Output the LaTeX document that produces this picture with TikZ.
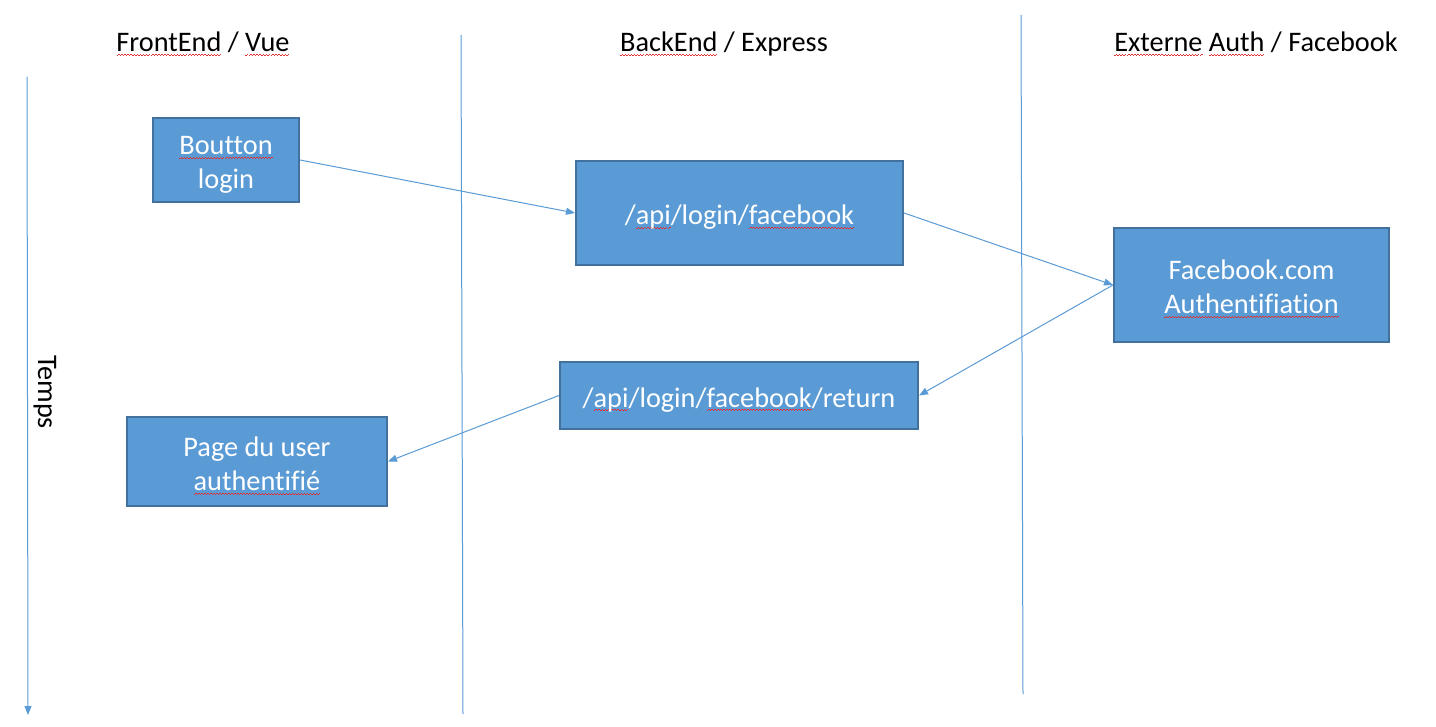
\documentclass[tikz,border=0pt]{standalone}
\usepackage{fontspec}
\setmainfont{Carlito}[Ligatures=NoCommon]
\usetikzlibrary{arrows.meta}
\definecolor{boxfill}{HTML}{5B9BD5}
\definecolor{boxline}{HTML}{41719C}
\definecolor{wavered}{HTML}{E03030}
\newsavebox\sqword
\newcommand\wavepiece{\hbox{{\color{wavered}\rule{1.5pt}{0.8pt}\raisebox{1pt}{\rule{1.5pt}{0.8pt}}}}}
\newcommand\sq[1]{\sbox\sqword{#1}\rlap{\raisebox{-4pt}{\hbox to\wd\sqword{\xleaders\wavepiece\hfill}}}\usebox\sqword}
\newcommand\topstrut{\rule{0pt}{28pt}}
\begin{document}
\begin{tikzpicture}[x=1pt,y=-1pt,
  box/.style={draw=boxline,line width=2pt,fill=boxfill,text=white,font=\fontsize{28.3}{34}\selectfont,align=center,inner sep=0pt},
  conn/.style={draw=boxfill,line width=1pt,-{Triangle[length=9pt,width=7pt]}},
  lane/.style={draw=boxfill,line width=1pt},
  title/.style={font=\fontsize{28.3}{34}\selectfont,text=black,inner sep=0pt}]
\useasboundingbox[fill=white] (0,0) rectangle (1436,727);

% lanes and time axis
\coordinate (l1top) at (461,35);
\coordinate (l1bot) at (463,714);
\coordinate (l2top) at (1021,15);
\coordinate (l2bot) at (1023,694);
\coordinate (ttop) at (27,77);
\coordinate (tbot) at (28,715);
\draw[lane] (l1top) -- (l1bot);
\draw[lane] (l2top) -- (l2bot);
\draw[conn] (ttop) -- (tbot);

% titles
\node[title,anchor=base] (t1) at (203,52) {\sq{FrontEnd} / \sq{Vue}};
\node[title,anchor=base] (t2) at (724,52) {\sq{BackEnd} / Express};
\node[title,anchor=base] (t3) at (1256,52) {\sq{Externe} \sq{Auth} / Facebook};
\node[title,rotate=-90] (temps) at (45,392) {Temps};

% boxes
\node[box,minimum width=146pt,minimum height=84pt] (b1) at (226,160) {\topstrut\sq{Boutton}\\login};
\node[box,minimum width=327pt,minimum height=104pt] (b2) at (739.5,213) {\topstrut/\sq{api}/login/\sq{facebook}};
\node[box,minimum width=275pt,minimum height=114pt] (b3) at (1251.5,285) {\topstrut Facebook.com\\\sq{Authentifiation}};
\node[box,minimum width=358pt,minimum height=67pt] (b4) at (739,395.5) {\topstrut/\sq{api}/login/\sq{facebook}/return};
\node[box,minimum width=260pt,minimum height=89pt] (b5) at (257,461.5) {\topstrut Page du user\\\sq{authentifié}};

% connectors
\draw[conn] (b1.east) -- (b2.west);
\draw[conn] (b2.east) -- (b3.west);
\draw[conn] (b3.west) -- (b4.east);
\draw[conn] (b4.west) -- (b5.east);
\end{tikzpicture}
\end{document}
